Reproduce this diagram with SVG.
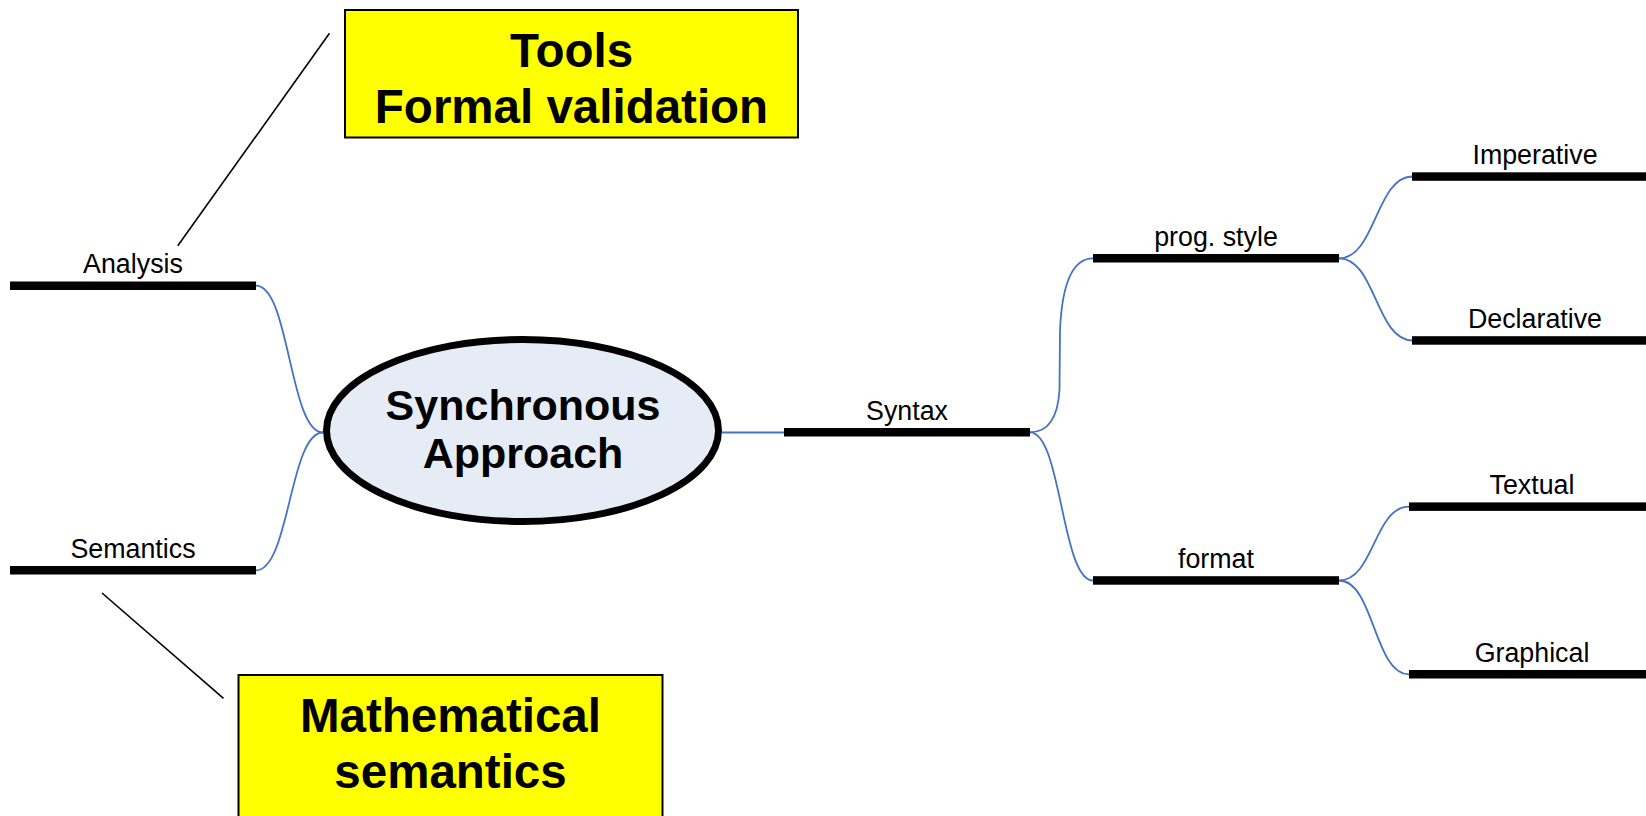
<svg xmlns="http://www.w3.org/2000/svg" width="1646" height="816" viewBox="0 0 1646 816">
  <style>
    .bar { fill: #000000; }
    .lbl { font-family: "Liberation Sans", Arial, sans-serif; font-size: 26.8px; fill: #000000; text-anchor: middle; }
    .big { font-family: "Liberation Sans", Arial, sans-serif; font-weight: bold; font-size: 47.5px; fill: #000000; text-anchor: middle; }
    .core { font-family: "Liberation Sans", Arial, sans-serif; font-weight: bold; font-size: 43px; fill: #000000; text-anchor: middle; }
    .note { fill: #ffff00; stroke: #000000; stroke-width: 2; }
    .link { fill: none; stroke: #4472c4; stroke-width: 1.8; }
    .pointer { fill: none; stroke: #000000; stroke-width: 1.6; }
  </style>
  <rect x="0" y="0" width="1646" height="816" fill="#ffffff"/>

  <!-- curved branch connectors -->
  <g id="connectors">
    <path class="link" d="M 256 285.7 C 289.5 285.7, 289.5 432.5, 323 432.5"/>
    <path class="link" d="M 256 570.3 C 289.5 570.3, 289.5 432.5, 323 432.5"/>
    <path class="link" d="M 722 432.5 L 784 432.5"/>
    <path class="link" d="M 1030 432.3 C 1050 432.3, 1058 415, 1059.5 390 L 1060 330 C 1062 285, 1072 258.3, 1093 258.3"/>
    <path class="link" d="M 1030 432.3 C 1061.5 432.3, 1061.5 580.5, 1093 580.5"/>
    <path class="link" d="M 1339 258.3 C 1375.8 258.3, 1375.8 176.5, 1412.6 176.5"/>
    <path class="link" d="M 1339 258.3 C 1375.8 258.3, 1375.8 340.5, 1412.6 340.5"/>
    <path class="link" d="M 1339 580.5 C 1374 580.5, 1374 506.7, 1409 506.7"/>
    <path class="link" d="M 1339 580.5 C 1374 580.5, 1374 674.3, 1409 674.3"/>
    <!-- callout pointers -->
    <line class="pointer" x1="329.5" y1="33.3" x2="177.8" y2="245.7"/>
    <line class="pointer" x1="102" y1="593" x2="223.5" y2="698.3"/>
  </g>

  <!-- central topic -->
  <g id="synchronous-approach">
    <ellipse cx="522.5" cy="430.5" rx="196" ry="91" fill="#e6ecf6" stroke="#000000" stroke-width="7"/>
    <text class="core" x="523" y="420">Synchronous</text>
    <text class="core" x="523" y="468">Approach</text>
  </g>

  <g id="analysis">
    <rect class="bar" x="10" y="281.5" width="246" height="8.5"/>
    <text class="lbl" x="133" y="273.3">Analysis</text>
  </g>

  <g id="semantics">
    <rect class="bar" x="10" y="566" width="246" height="8.5"/>
    <text class="lbl" x="133" y="557.5">Semantics</text>
  </g>

  <g id="syntax">
    <rect class="bar" x="784" y="428" width="246" height="8.5"/>
    <text class="lbl" x="907" y="419.5">Syntax</text>
  </g>

  <g id="prog-style">
    <rect class="bar" x="1093" y="254" width="246" height="8.5"/>
    <text class="lbl" x="1216" y="245.5">prog. style</text>
  </g>

  <g id="format">
    <rect class="bar" x="1093" y="576.2" width="246" height="8.5"/>
    <text class="lbl" x="1216" y="567.5">format</text>
  </g>

  <g id="imperative">
    <rect class="bar" x="1412" y="172.3" width="246" height="8.5"/>
    <text class="lbl" x="1535" y="163.5">Imperative</text>
  </g>

  <g id="declarative">
    <rect class="bar" x="1412" y="336.2" width="246" height="8.5"/>
    <text class="lbl" x="1535" y="327.5">Declarative</text>
  </g>

  <g id="textual">
    <rect class="bar" x="1409" y="502.4" width="246" height="8.5"/>
    <text class="lbl" x="1532" y="494">Textual</text>
  </g>

  <g id="graphical">
    <rect class="bar" x="1409" y="670" width="246" height="8.5"/>
    <text class="lbl" x="1532" y="661.7">Graphical</text>
  </g>

  <!-- yellow callouts -->
  <g id="tools-note">
    <rect class="note" x="345" y="10" width="453" height="127.5"/>
    <text class="big" x="571.5" y="67.3">Tools</text>
    <text class="big" x="571.5" y="123.3">Formal validation</text>
  </g>

  <g id="math-note">
    <rect class="note" x="238.5" y="675" width="424" height="160"/>
    <text class="big" x="450.5" y="731.7">Mathematical</text>
    <text class="big" x="450.5" y="788.3">semantics</text>
  </g>
</svg>
